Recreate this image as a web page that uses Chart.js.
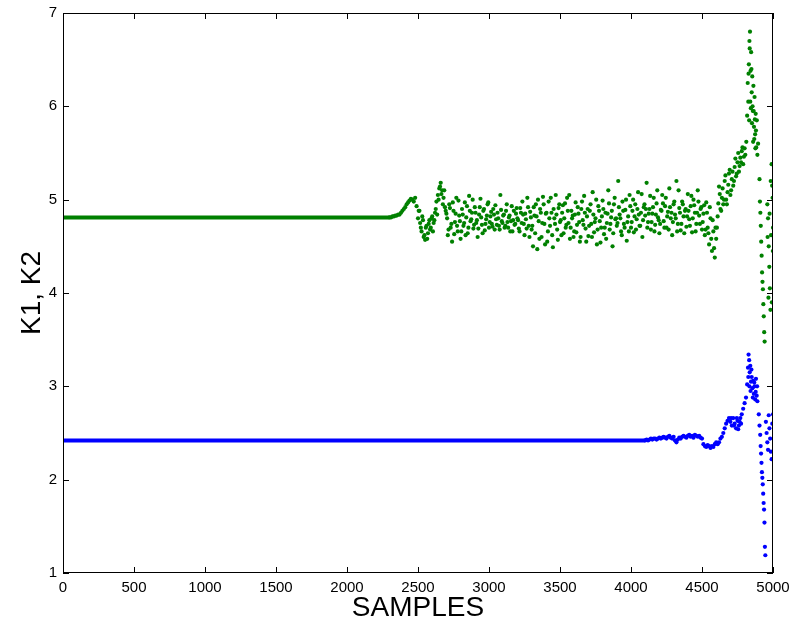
<!DOCTYPE html>
<html>
<head>
<meta charset="utf-8">
<script src="https://cdn.jsdelivr.net/npm/chart.js@4.4.0/dist/chart.umd.min.js"></script>
<style>
  body { margin: 0; background: #fff; }
  canvas { display: block; }
</style>
</head>
<body>
<canvas id="chart" width="789" height="626"></canvas>
<script>
// K1 (grün) und K2 (blau) über den Samples
const xTicks = [0, 500, 1000, 1500, 2000, 2500, 3000, 3500, 4000, 4500, 5000];
const yTicks = [1, 2, 3, 4, 5, 6, 7];

// konstanter Anfangsbereich
const k1Flat = 4.81;
const k1FlatEnd = 2300;
const k2Flat = 2.42;
const k2FlatEnd = 4100;

// K1 ab Sample 2300, alle 10 Samples
const k1Start = 2300;
const k1Step = 10;
const k1Values = [
  4.81, 4.81, 4.82, 4.82, 4.83, 4.83, 4.84, 4.84,
  4.86, 4.88, 4.90, 4.92, 4.95, 4.97, 4.99, 5.01, 5.00, 4.98, 5.02,
  4.93, 4.80, 4.88, 4.70, 4.82, 4.60, 4.57,
  4.72, 4.64, 4.78, 4.70, 4.82, 4.75, 4.86,
  4.98, 5.05, 5.12, 5.18, 5.10, 5.02, 4.92, 4.85,
  4.62, 4.95, 4.70, 4.55, 4.88, 4.76, 5.02, 4.66, 4.83, 4.58,
  4.90, 4.72, 4.97, 4.81, 4.64, 5.04, 4.77, 4.86, 4.69, 4.92,
  4.75, 4.60, 4.84, 5.01, 4.73, 4.88, 4.67, 4.79, 4.95, 4.70,
  4.82, 4.74, 4.90, 4.68, 4.79, 4.86, 4.72, 5.05, 4.77, 4.83,
  4.70, 4.88, 4.76, 4.81, 4.66, 4.93, 4.78, 4.73, 4.85, 4.80,
  4.69, 4.91, 4.75, 4.84, 4.62, 4.79, 5.02, 4.72, 4.87, 4.68,
  4.50, 4.83, 4.95, 4.47, 4.77, 4.90, 4.60, 5.03, 4.74, 4.85,
  4.55, 4.98, 4.72, 4.86, 4.49, 4.80, 5.05, 4.68, 4.91, 4.76,
  4.62, 4.94, 4.80, 4.70, 5.02, 4.75, 4.58, 4.88, 4.83, 4.66,
  4.97, 4.73, 4.85, 4.55, 4.90, 4.78, 5.04, 4.69, 4.82, 4.61,
  4.88, 4.74, 5.08, 4.65, 4.80, 4.52, 4.93, 4.77, 4.70, 4.99,
  4.63, 4.86, 4.75, 5.10, 4.68, 4.81, 4.50, 4.95, 4.79, 4.72,
  5.20, 4.84, 4.66, 4.98, 4.74, 4.89, 4.56, 4.82, 5.05, 4.70,
  4.88, 4.65, 4.95, 4.79, 5.08, 4.72, 4.86, 4.60, 4.92, 4.83,
  5.18, 4.76, 4.90, 4.68, 4.85, 5.02, 4.73, 4.96, 4.81, 4.64,
  4.89, 5.05, 4.77, 4.93, 4.70, 4.87, 5.12, 4.80, 4.62, 4.95,
  4.84, 5.20, 4.74, 4.91, 4.67, 4.98, 4.82, 4.88, 4.71, 5.06,
  4.79, 4.93, 4.65, 5.00, 4.86, 4.74, 5.10, 4.83, 4.90, 4.68,
  4.85, 4.62, 4.97, 4.70, 4.52, 4.80, 4.45, 4.66, 4.38, 4.58,
  4.82, 5.14, 4.90, 5.02, 4.95, 5.20, 5.00, 5.08, 5.28, 5.05,
  5.22, 5.15, 5.35, 5.25, 5.40, 5.30, 5.45, 5.52, 5.38, 5.55
];
// zweite Reihe dazwischen (Sample 2505, 2515, ... 4795)
const k1StartB = 2505;
const k1ValuesB = [
  4.88, 4.75, 4.66, 4.78, 4.62, 4.70, 4.58, 4.74, 4.68, 4.80,
  4.66, 4.78, 4.90, 4.84, 5.00, 5.14, 5.06, 4.95, 5.10, 4.88,
  4.80, 4.68, 4.91, 4.74, 4.97, 4.63, 4.85, 4.72, 4.99, 4.77,
  4.66, 4.84, 4.75, 4.62, 4.93, 4.70, 4.88, 4.79, 5.00, 4.73,
  4.86, 4.78, 4.69, 4.92, 4.81, 4.64, 4.90, 4.74, 4.83, 4.97,
  4.76, 4.87, 4.71, 4.84, 4.94, 4.73, 4.80, 4.68, 4.89, 4.75,
  4.84, 4.72, 4.95, 4.70, 4.83, 4.77, 4.66, 4.88, 4.74, 4.91,
  4.78, 4.66, 4.86, 4.98, 4.74, 4.85, 4.69, 4.92, 4.60, 4.81,
  4.72, 4.92, 4.64, 4.82, 5.00, 4.58, 4.86, 4.75, 4.95, 4.52,
  4.86, 4.66, 4.80, 5.02, 4.62, 4.90, 4.74, 4.84, 4.57, 4.95,
  4.78, 4.86, 4.64, 4.96, 4.73, 4.88, 5.05, 4.70, 4.80, 4.60,
  4.84, 4.65, 4.92, 4.76, 4.60, 4.98, 4.73, 4.86, 4.55, 4.90,
  4.72, 4.95, 4.60, 4.84, 4.76, 5.00, 4.68, 4.88, 4.54, 4.82,
  4.90, 4.70, 4.58, 4.85, 4.96, 4.74, 4.88, 4.64, 5.02, 4.80,
  4.75, 4.92, 4.80, 4.62, 4.88, 4.70, 5.00, 4.76, 4.66, 4.93,
  4.76, 5.00, 4.82, 4.68, 4.90, 4.84, 4.72, 5.06, 4.78, 4.95,
  4.90, 4.70, 4.85, 5.04, 4.76, 4.92, 4.66, 4.84, 5.10, 4.78,
  4.74, 4.88, 4.96, 4.70, 5.02, 4.82, 4.68, 4.92, 4.86, 4.76,
  4.98, 4.80, 4.66, 5.10, 4.86, 4.74, 4.95, 4.64, 4.90, 4.82,
  4.88, 4.72, 5.04, 4.80, 4.94, 4.66, 4.86, 4.98, 4.74, 4.92,
  4.76, 4.94, 4.68, 4.86, 4.64, 4.92, 4.58, 4.78, 4.48, 4.70,
  4.70, 4.96, 5.06, 4.88, 5.12, 5.00, 5.26, 4.95, 5.16, 5.32,
  5.10, 5.30, 5.20, 5.44, 5.28, 5.50, 5.36, 5.40, 5.56, 5.46
];
// unruhiges Ende von K1
const k1TailX = [
  4805, 4812, 4818, 4822, 4826, 4830, 4834, 4838, 4842, 4846,
  4850, 4854, 4858, 4862, 4866, 4870, 4874, 4878, 4882, 4886,
  4890, 4895, 4905, 4908, 4911, 4914, 4917, 4920, 4923, 4926,
  4929, 4932, 4935, 4938, 4941, 4960, 4965, 4970, 4974, 4978,
  4982, 4986, 4990, 4994, 4997, 5000,
  4828, 4832, 4836, 4840, 4844, 4848, 4852, 4856, 4860, 4864,
  4868, 4872, 4876, 4880, 4962, 4968, 4976, 4984, 4992, 4999
];
const k1TailY = [
  5.48, 5.62, 5.90, 6.25, 6.05, 6.45, 6.70, 6.80, 6.38, 6.58,
  6.15, 6.32, 5.95, 6.22, 5.78, 6.10, 5.70, 5.92, 5.56, 5.85,
  5.48, 5.60, 5.22, 4.98, 4.86, 4.72, 4.55, 4.40, 4.22, 4.12,
  4.04, 3.88, 3.75, 3.58, 3.48, 4.95, 4.80, 4.50, 4.28, 4.05,
  3.82, 4.62, 5.38, 5.15, 5.02, 4.70,
  6.35, 5.85, 6.62, 6.05, 5.98, 6.40, 5.82, 6.00, 5.62, 5.95,
  5.65, 5.86, 5.55, 5.74, 4.60, 3.95, 4.85, 5.20, 3.90, 4.45
];

// K2 ab Sample 4100, alle 10 Samples
const k2Start = 4100;
const k2Step = 10;
const k2Values = [
  2.42, 2.43, 2.42, 2.43, 2.44, 2.43, 2.44, 2.44, 2.43, 2.44, 2.45,
  2.44, 2.45, 2.46, 2.45, 2.44, 2.46, 2.47, 2.45, 2.44, 2.46,
  2.42, 2.40, 2.43, 2.45, 2.44, 2.46, 2.47, 2.46, 2.45, 2.47,
  2.48, 2.46, 2.47, 2.45, 2.48, 2.47, 2.46, 2.47, 2.45, 2.44,
  2.38, 2.36, 2.35, 2.37, 2.36, 2.34, 2.36, 2.35, 2.38, 2.40,
  2.38, 2.40, 2.44, 2.46, 2.50, 2.55, 2.60, 2.63, 2.66, 2.62,
  2.58, 2.66, 2.60, 2.55, 2.63, 2.58, 2.66, 2.70, 2.76, 2.82
];
const k2TailX = [
  4810, 4818, 4824, 4828, 4832, 4836, 4840, 4845, 4850, 4855,
  4860, 4865, 4870, 4875, 4880, 4885, 4890, 4900, 4905, 4910,
  4913, 4916, 4919, 4922, 4925, 4928, 4931, 4934, 4937, 4940,
  4943, 4946, 4950, 4955, 4960, 4965, 4970, 4975, 4980, 4985,
  4990, 4995, 5000,
  4705, 4725, 4745, 4755, 4765, 4775,
  4826, 4834, 4842, 4848, 4858, 4868, 4878, 4888
];
const k2TailY = [
  2.88, 3.02, 3.20, 3.34, 3.28, 3.15, 3.22, 3.05, 3.10, 2.98,
  3.06, 2.92, 3.00, 2.86, 3.08, 2.90, 2.84, 2.70, 2.58, 2.48,
  2.36, 2.28, 2.18, 2.08, 2.02, 1.95, 1.85, 1.75, 1.68, 1.54,
  1.28, 1.19, 2.62, 2.50, 2.40, 2.32, 2.69, 2.55, 2.44, 2.30,
  2.22, 2.60, 2.70,
  2.66, 2.58, 2.66, 2.54, 2.62, 2.60,
  3.10, 3.00, 2.95, 3.18, 2.88, 3.04, 2.94, 3.00
];

const green = "#008000";
const blue = "#0000ff";

function toPoints(start, step, values) {
  return values.map((v, i) => ({ x: start + i * step, y: v }));
}
function pairPoints(xs, ys) {
  return xs.map((x, i) => ({ x, y: ys[i] }));
}

const k1Points = toPoints(k1Start, k1Step, k1Values)
  .concat(toPoints(k1StartB, k1Step, k1ValuesB))
  .concat(pairPoints(k1TailX, k1TailY));
const k2Points = toPoints(k2Start, k2Step, k2Values)
  .concat(pairPoints(k2TailX, k2TailY));

// Rahmen mit Ticks nach innen (wie MATLAB)
const boxPlugin = {
  id: "box",
  afterDatasetsDraw(chart) {
    const { ctx, chartArea: a, scales } = chart;
    const len = 6;
    ctx.save();
    ctx.strokeStyle = "#000";
    ctx.lineWidth = 1;
    ctx.strokeRect(a.left + 0.5, a.top + 0.5, a.right - a.left - 1, a.bottom - a.top - 1);
    ctx.beginPath();
    scales.x.ticks.forEach((t) => {
      const px = Math.round(scales.x.getPixelForValue(t.value)) + 0.5;
      ctx.moveTo(px, a.bottom);
      ctx.lineTo(px, a.bottom - len);
      ctx.moveTo(px, a.top);
      ctx.lineTo(px, a.top + len);
    });
    scales.y.ticks.forEach((t) => {
      const py = Math.round(scales.y.getPixelForValue(t.value)) + 0.5;
      ctx.moveTo(a.left, py);
      ctx.lineTo(a.left + len, py);
      ctx.moveTo(a.right, py);
      ctx.lineTo(a.right - len, py);
    });
    ctx.stroke();
    ctx.restore();
  },
};

const tickFont = { family: "'Liberation Sans', Arial, sans-serif", size: 15 };
const titleFont = { family: "'Liberation Sans', Arial, sans-serif", size: 28 };

new Chart(document.getElementById("chart"), {
  type: "scatter",
  data: {
    datasets: [
      {
        data: [{ x: 0, y: k1Flat }, { x: k1FlatEnd, y: k1Flat }],
        showLine: true,
        borderColor: green,
        borderWidth: 4,
        pointRadius: 0,
        order: 0,
      },
      {
        data: k1Points,
        backgroundColor: green,
        borderWidth: 0,
        pointRadius: 2.1,
        order: 0,
      },
      {
        data: [{ x: 0, y: k2Flat }, { x: k2FlatEnd, y: k2Flat }],
        showLine: true,
        borderColor: blue,
        borderWidth: 4,
        pointRadius: 0,
        order: 1,
      },
      {
        data: k2Points,
        backgroundColor: blue,
        borderWidth: 0,
        pointRadius: 2.1,
        order: 1,
      },
    ],
  },
  options: {
    responsive: false,
    animation: false,
    layout: { padding: { top: 13, right: 16, left: 0, bottom: 0 } },
    plugins: {
      legend: { display: false },
      tooltip: { enabled: false },
    },
    scales: {
      x: {
        type: "linear",
        min: 0,
        max: 5000,
        grid: { display: false, drawTicks: false },
        border: { display: false },
        afterBuildTicks: (s) => { s.ticks = xTicks.map((v) => ({ value: v })); },
        afterFit: (s) => { s.height = 53; s.paddingLeft = 0; s.paddingRight = 0; },
        ticks: { color: "#000", font: tickFont, padding: 6, maxRotation: 0, callback: (v) => String(v) },
        title: { display: true, text: "SAMPLES", color: "#000", font: titleFont, padding: { top: 0, bottom: 1 } },
      },
      y: {
        type: "linear",
        min: 1,
        max: 7,
        grid: { display: false, drawTicks: false },
        border: { display: false },
        afterBuildTicks: (s) => { s.ticks = yTicks.map((v) => ({ value: v })); },
        afterFit: (s) => { s.width = 63; s.paddingTop = 0; s.paddingBottom = 0; },
        ticks: { color: "#000", font: tickFont, padding: 6, callback: (v) => String(v) },
        title: { display: true, text: "K1, K2", color: "#000", font: titleFont, padding: { top: 15, bottom: 0 } },
      },
    },
  },
  plugins: [boxPlugin],
});
</script>
</body>
</html>
